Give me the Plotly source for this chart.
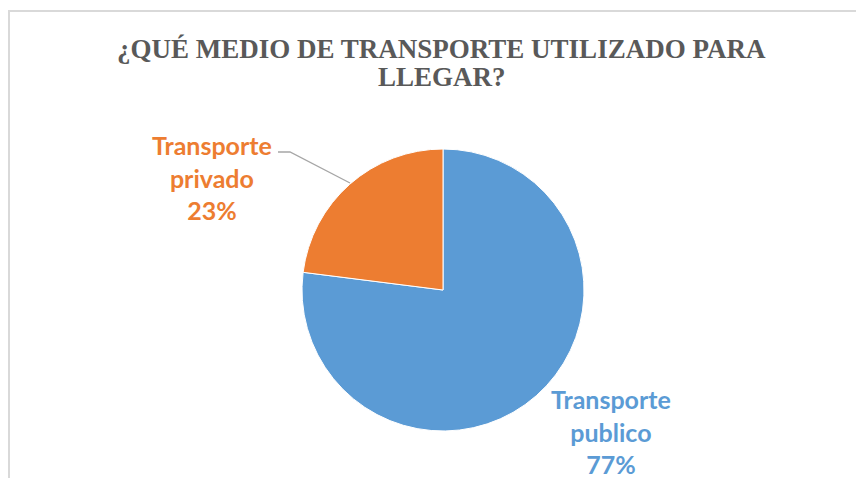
import plotly.graph_objects as go

labels = ["Transporte publico", "Transporte privado"]
values = [77, 23]
colors = ["#5B9BD5", "#ED7D31"]
title_lines = ["¿QUÉ MEDIO DE TRANSPORTE UTILIZADO PARA", "LLEGAR?"]

W, H = 864, 478
OFF = 8  # page body margin

def px(x):
    return (x - OFF) / W

def py(y):
    return 1 - (y - OFF) / H

fig = go.Figure(go.Pie(
    labels=labels,
    values=values,
    sort=False,
    direction="clockwise",
    rotation=0,
    marker=dict(colors=colors, line=dict(color="white", width=1)),
    textinfo="none",
    hoverinfo="label+percent",
    domain=dict(x=[px(302), px(584)], y=[py(431), py(149)]),
    showlegend=False,
))

total = sum(values)
# label positions (pixels) for each slice
label_pos = [(611, 431), (212, 177)]
for lab, v, c, (lx, ly) in zip(labels, values, colors, label_pos):
    words = lab.split(" ")
    txt = "<br>".join(words) + "<br>" + f"{round(100 * v / total)}%"
    fig.add_annotation(
        x=px(lx), y=py(ly), xref="paper", yref="paper",
        xanchor="center", yanchor="middle",
        text=txt, showarrow=False, align="center",
        font=dict(family="Lato", size=25, color=c, weight="bold"),
    )

# title, two lines
for i, t in enumerate(title_lines):
    fig.add_annotation(
        x=px(442), y=py(49 + 28 * i), xref="paper", yref="paper",
        xanchor="center", yanchor="middle",
        text=t, showarrow=False,
        font=dict(family="Liberation Serif", size=27, color="#595959", weight="bold"),
    )

# leader line for the small slice
fig.add_shape(type="path", xref="paper", yref="paper",
              path=f"M {px(278)} {py(152)} L {px(290)} {py(152)} L {px(350)} {py(183)}",
              line=dict(color="#A6A6A6", width=1.3))

# chart area border (left and top edges)
fig.add_shape(type="path", xref="paper", yref="paper",
              path=f"M {px(9)} {py(478)} L {px(9)} {py(11)} L {px(870)} {py(11)}",
              line=dict(color="#D9D9D9", width=2))

fig.update_layout(
    width=W, height=H,
    margin=dict(l=0, r=0, t=0, b=0, autoexpand=False),
    paper_bgcolor="white",
    plot_bgcolor="white",
)

fig.write_html("out.html")
